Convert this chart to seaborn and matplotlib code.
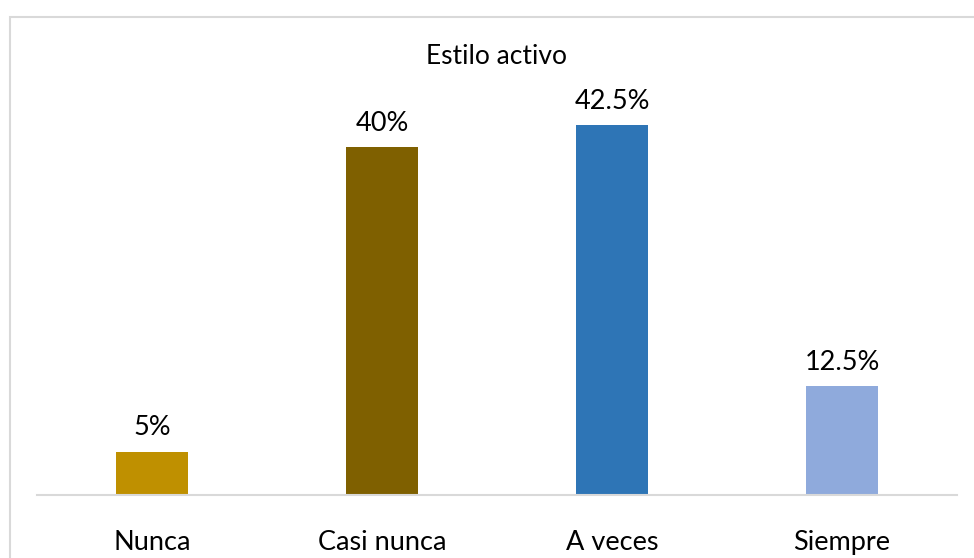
import matplotlib
matplotlib.use("Agg")
import matplotlib.pyplot as plt
import seaborn as sns
import pandas as pd
from matplotlib.patches import Rectangle

categories = ["Nunca", "Casi nunca", "A veces", "Siempre"]
values = [5, 40, 42.5, 12.5]
labels = ["5%", "40%", "42.5%", "12.5%"]
colors = ["#BF9000", "#7F6000", "#2E75B6", "#8FAADC"]
title = "Estilo activo"

sns.set_theme(style="white")
plt.rcParams['font.family'] = ['Lato', 'DejaVu Sans']

W, H = 974, 558
fig = plt.figure(figsize=(W / 100, H / 100), dpi=100)
left, right = 37, 957
bottom_px = 495
top_px = bottom_px - 45 * 8.70
ax = fig.add_axes([left / W, 1 - bottom_px / H, (right - left) / W, (bottom_px - top_px) / H])

df = pd.DataFrame({"cat": categories, "val": values})
sns.barplot(data=df, x="cat", y="val", hue="cat", palette=colors, legend=False,
            width=0.313, ax=ax, saturation=1, linewidth=0)
ax.set_xlim(-0.5, 3.5)
ax.set_ylim(0, 45)
for s in ["top", "right", "left"]:
    ax.spines[s].set_visible(False)
ax.spines["bottom"].set_color("#D9D9D9")
ax.spines["bottom"].set_linewidth(1.5)
ax.set_yticks([])
ax.set_xlabel("")
ax.set_ylabel("")
ax.tick_params(axis="x", length=0, pad=25, labelsize=19.5, labelcolor="black")

for i, (v, lab) in enumerate(zip(values, labels)):
    ax.annotate(lab, (i, v), xytext=(0, 8), textcoords="offset points",
                ha="center", va="bottom", fontsize=19.5, color="black")

fig.text(0.5 * (left + right) / W, 1 - 57 / H, title, ha="center", va="center",
         fontsize=19, color="black")

fig.patches.append(Rectangle((9.5 / W, -0.1), 1.2, 1 - 17.5 / H + 0.1,
                             transform=fig.transFigure, fill=False,
                             edgecolor="#D9D9D9", linewidth=1.5))

fig.savefig("out.png", dpi=100)
